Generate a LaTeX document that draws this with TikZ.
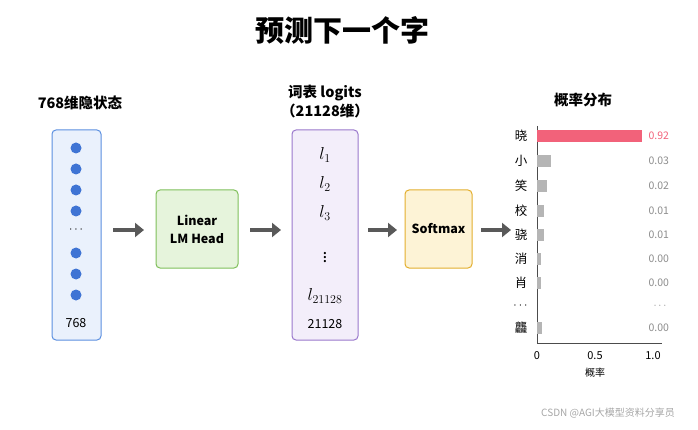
\documentclass[tikz,border=0pt]{standalone}
\usepackage{fontspec}
\setmainfont{Noto Sans CJK SC}
\usetikzlibrary{arrows.meta,positioning}
\definecolor{vecblue}{HTML}{EAF1FC}
\definecolor{vecline}{HTML}{5B8FE0}
\definecolor{dotblue}{HTML}{3F74D4}
\definecolor{linfill}{HTML}{E6F4DC}
\definecolor{linline}{HTML}{7FBF5A}
\definecolor{logfill}{HTML}{F3EEFA}
\definecolor{logline}{HTML}{9A78CC}
\definecolor{smfill}{HTML}{FDF3D6}
\definecolor{smline}{HTML}{E3AE2E}
\definecolor{barred}{HTML}{F2627A}
\definecolor{bargray}{HTML}{B5B5B5}
\begin{document}
\begin{tikzpicture}[
    x=1pt, y=-1pt,
    font=\fontsize{12.5}{15}\selectfont,
    box/.style={draw, rounded corners=4pt, line width=1pt},
    flow/.style={-{Triangle[length=9pt,width=14pt]}, line width=4.5pt, draw=black!65},
    head/.style={font=\fontsize{14.5}{19}\selectfont\bfseries},
    logit/.style={inner sep=0pt, font=\fontsize{17}{19}\selectfont},
    bar/.style={fill=bargray, draw=none},
    val/.style={anchor=west, text=black!45, font=\fontsize{10.5}{12}\selectfont}
  ]
  \useasboundingbox (0,0) rectangle (698,430);

  \node (title) at (342,30) {\fontsize{29}{33}\selectfont\bfseries 预测下一个字};

  % hidden state
  \node[head] (hlab) at (80,103) {768维隐状态};
  \node[box, fill=vecblue, draw=vecline, minimum width=49pt, minimum height=210pt] (hid) at (76.5,235) {};
  \foreach \y in {148,169,190,211,253,274,295}
    \fill[dotblue] (76,\y) circle (5.5pt);
  \node (hdots) at (76,230) {$\cdots$};
  \node (hdim) at (76,323) {768};

  % linear head
  \node[box, fill=linfill, draw=linline, minimum width=82pt, minimum height=78pt, align=center,
    font=\fontsize{12.5}{18}\selectfont\bfseries] (lin) at (197,229) {Linear\\LM Head};

  % logits
  \node[head, align=center] (loglab) at (325,102) {词表 logits\\（21128维）};
  \node[box, fill=logfill, draw=logline, minimum width=66pt, minimum height=210pt] (logit) at (325,235) {};
  \node[logit] (l1) at (325,155) {$l_1$};
  \node[logit] (l2) at (325,184) {$l_2$};
  \node[logit] (l3) at (325,213) {$l_3$};
  \node[logit] (ldots) at (325,255) {$\vdots$};
  \node[logit] (ln) at (325,296) {$l_{21128}$};
  \node (ldim) at (325,324) {21128};

  % softmax
  \node[box, fill=smfill, draw=smline, minimum width=67pt, minimum height=78pt,
    font=\fontsize{12.5}{15}\selectfont\bfseries] (sm) at (438.5,229) {Softmax};

  \draw[flow] (113,230) -- (144,230);
  \draw[flow] (250,230) -- (281,230);
  \draw[flow] (368,230) -- (397,230);
  \draw[flow] (481,230) -- (511,230);

  % distribution
  \node[head] (plab) at (583,100) {概率分布};
  \draw[black!70, line width=0.8pt] (537,126) -- (537,343) -- (662,343);
  \fill[barred] (537,130) rectangle (642,142);
  \node[anchor=east] (c1) at (531,136) {晓};
  \node[val, text=barred] (v1) at (645,136) {0.92};
  \foreach \ch/\y/\w/\v in {小/161/14/0.03, 笑/186/10/0.02, 校/211/7/0.01, 骁/235/7/0.01, 消/259/4/0.00, 肖/283/4/0.00, 龘/328/5/0.00} {
    \fill[bar] (537,\y-6) rectangle (537+\w,\y+6);
    \node[anchor=east] at (531,\y) {\ch};
    \node[val] at (645,\y) {\v};
  }
  \node[anchor=east] (cdots) at (531,306) {$\cdots$};
  \node[val] (vdots) at (650,306) {$\cdots$};
  \foreach \t/\x in {0/537, 0.5/595, 1.0/653}
    \node[font=\fontsize{11}{13}\selectfont] at (\x,356) {\t};
  \node[font=\fontsize{10}{12}\selectfont] (xlab) at (595,373) {概率};

  \node[text=black!35, font=\fontsize{10}{12}\selectfont] (mark) at (608,413) {CSDN @AGI大模型资料分享员};
\end{tikzpicture}
\end{document}
